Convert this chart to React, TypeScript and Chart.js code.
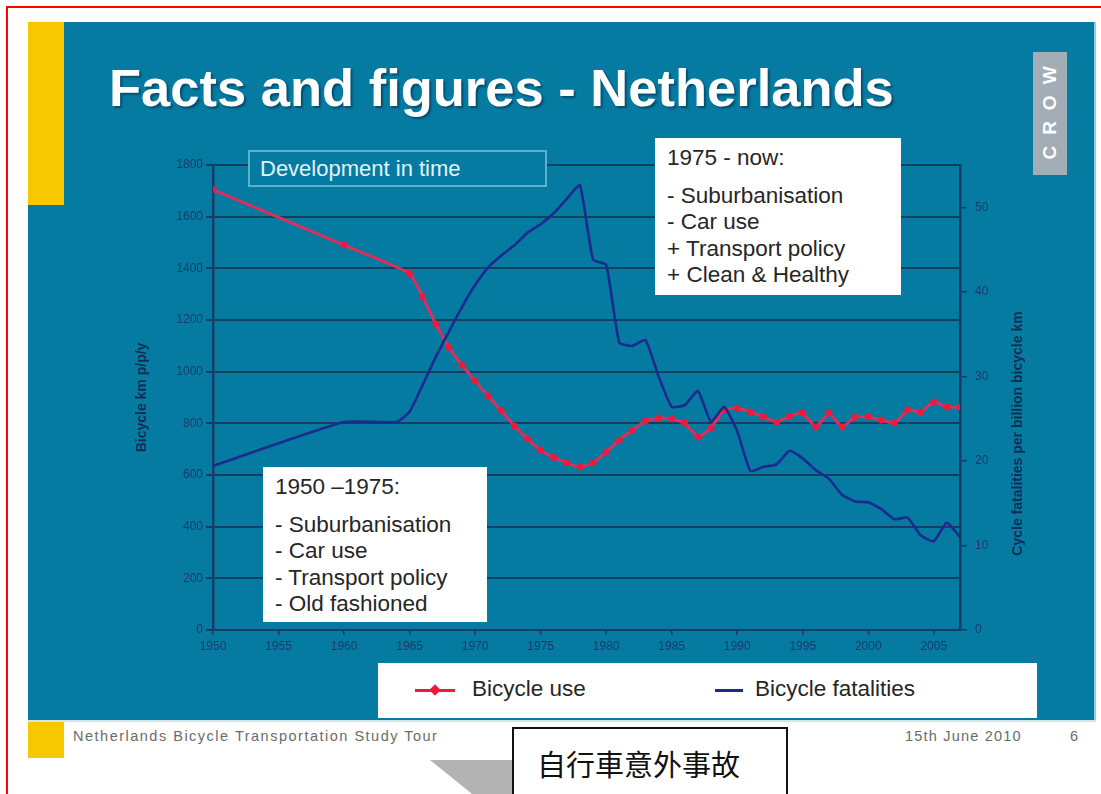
import React, { useEffect, useRef } from "react";
import { Chart, registerables } from "chart.js";

Chart.register(...registerables);

// Bicycle use (km per person per year)
const useYears = [
  1950, 1960, 1965, 1966, 1967, 1968, 1969, 1970, 1971, 1972, 1973, 1974, 1975, 1976, 1977, 1978,
  1979, 1980, 1981, 1982, 1983, 1984, 1985, 1986, 1987, 1988, 1989, 1990, 1991, 1992, 1993, 1994,
  1995, 1996, 1997, 1998, 1999, 2000, 2001, 2002, 2003, 2004, 2005, 2006, 2007,
];
const useKm = [
  1705, 1490, 1380, 1290, 1185, 1095, 1025, 965, 905, 850, 790, 740, 697, 668, 647, 631,
  647, 689, 735, 774, 809, 821, 817, 801, 747, 782, 852, 859, 844, 825, 805, 828,
  840, 786, 840, 786, 825, 825, 813, 801, 852, 844, 883, 863, 863,
];

// Cycle fatalities per billion bicycle km
const fatalYears = [
  1950, 1960, 1964, 1965, 1966, 1967, 1968, 1969, 1970, 1971, 1972, 1973, 1974, 1975, 1976, 1977,
  1978, 1979, 1980, 1981, 1982, 1983, 1984, 1985, 1986, 1987, 1988, 1989, 1990, 1991, 1992, 1993,
  1994, 1995, 1996, 1997, 1998, 1999, 2000, 2001, 2002, 2003, 2004, 2005, 2006, 2007,
];
const fatalRate = [
  19.4, 24.6, 24.6, 25.8, 29.0, 32.3, 35.3, 38.2, 40.8, 42.9, 44.3, 45.5, 47.0, 48.0, 49.3, 51.0,
  52.6, 43.8, 43.2, 34.0, 33.6, 34.3, 30.0, 26.4, 26.6, 28.3, 24.6, 26.4, 23.5, 18.8, 19.3, 19.6,
  21.2, 20.3, 18.9, 17.9, 16.0, 15.2, 15.1, 14.3, 13.1, 13.3, 11.2, 10.5, 12.7, 11.0,
];

const yearMin = 1950;
const yearMax = 2007;
const yearStep = 5;
const kmMax = 1800;
const kmStep = 200;
const rateMax = 55;
const rateStep = 10;

const leftAxisTitle = "Bicycle km p/p/y";
const rightAxisTitle = "Cycle fatalities per billion bicycle km";
const useLabel = "Bicycle use";
const fatalLabel = "Bicycle fatalities";

const earlyPeriod = ["1950 \u20131975:", "- Suburbanisation", "- Car use", "- Transport policy", "- Old fashioned"];
const latePeriod = ["1975 - now:", "- Suburbanisation", "- Car use", "+ Transport policy", "+ Clean & Healthy"];

const FONT = '"Liberation Sans", Arial, Helvetica, sans-serif';
const TEAL = "#067ba2";
const NAVY = "#163c6a";
const GRID = "#13405f";
const RED = "#ee1a3c";
const BLUE = "#1b2a8c";

const CANVAS_LEFT = 100;
const CANVAS_TOP = 140;
const CANVAS_W = 940;
const CANVAS_H = 530;

const rightTitlePlugin = {
  id: "rightTitle",
  afterDraw(chart: any) {
    const { ctx, chartArea } = chart;
    const s = chart.scales.y2;
    ctx.save();
    ctx.translate(s.right - 22, (chartArea.top + chartArea.bottom) / 2 + 36);
    ctx.rotate(-Math.PI / 2);
    ctx.font = `bold 14px ${FONT}`;
    ctx.fillStyle = "#0f2d52";
    ctx.textAlign = "center";
    ctx.textBaseline = "middle";
    ctx.fillText(rightAxisTitle, 0, 0);
    ctx.restore();
  },
};

function TrendChart() {
  const ref = useRef<HTMLCanvasElement | null>(null);

  useEffect(() => {
    if (!ref.current) return;
    const chart = new Chart(ref.current, {
      type: "line",
      data: {
        datasets: [
          {
            label: fatalLabel,
            data: fatalYears.map((x, i) => ({ x, y: fatalRate[i] })),
            yAxisID: "y2",
            borderColor: BLUE,
            borderWidth: 2.6,
            pointRadius: 0,
            tension: 0.15,
            borderJoinStyle: "round",
            order: 0,
          },
          {
            label: useLabel,
            data: useYears.map((x, i) => ({ x, y: useKm[i] })),
            yAxisID: "y",
            borderColor: "#de2e5c",
            borderWidth: 3,
            pointRadius: 3.4,
            pointBorderWidth: 0,
            pointBackgroundColor: RED,
            tension: 0.15,
            borderJoinStyle: "round",
            order: 1,
          },
        ],
      },
      options: {
        animation: false,
        responsive: false,
        devicePixelRatio: 1,
        layout: { padding: { top: 25, left: 0, right: 0, bottom: 0 } },
        plugins: { legend: { display: false }, tooltip: { enabled: false } },
        scales: {
          x: {
            type: "linear",
            position: "bottom",
            min: yearMin,
            max: yearMax,
            afterFit: (s: any) => {
              s.height = 40;
            },
            ticks: {
              stepSize: yearStep,
              includeBounds: false,
              autoSkip: false,
              maxRotation: 0,
              padding: 4,
              color: NAVY,
              font: { family: FONT, size: 12 },
              callback: (v: any) => String(v),
            },
            grid: { drawOnChartArea: false, drawTicks: true, tickLength: 5, color: NAVY, lineWidth: 1.5 },
            border: { display: true, color: NAVY, width: 2 },
          },
          y: {
            type: "linear",
            position: "left",
            min: 0,
            max: kmMax,
            afterFit: (s: any) => {
              s.width = 113;
            },
            ticks: {
              stepSize: kmStep,
              padding: 3,
              color: NAVY,
              font: { family: FONT, size: 12 },
              callback: (v: any) => String(v),
            },
            grid: { color: GRID, lineWidth: 2, tickLength: 7, tickColor: NAVY },
            border: { display: true, color: NAVY, width: 2.5 },
            title: {
              display: true,
              text: leftAxisTitle,
              color: "#0f2d52",
              font: { family: FONT, size: 14, weight: "bold" },
              padding: { top: 34, bottom: 0 },
            },
          },
          y2: {
            type: "linear",
            position: "right",
            min: 0,
            max: rateMax,
            afterFit: (s: any) => {
              s.width = 80;
            },
            ticks: {
              stepSize: rateStep,
              includeBounds: false,
              padding: 8,
              color: NAVY,
              font: { family: FONT, size: 12 },
              callback: (v: any) => String(v),
            },
            grid: { drawOnChartArea: false, tickLength: 7, color: NAVY, lineWidth: 1.5 },
            border: { display: true, color: NAVY, width: 2.5 },
          },
        },
      } as any,
      plugins: [rightTitlePlugin],
    });
    return () => chart.destroy();
  }, []);

  return (
    <canvas
      ref={ref}
      width={CANVAS_W}
      height={CANVAS_H}
      style={{ position: "absolute", left: CANVAS_LEFT, top: CANVAS_TOP, width: CANVAS_W, height: CANVAS_H, zIndex: 1 }}
    />
  );
}

const abs = (l: number, t: number, w: number, h: number, extra: React.CSSProperties = {}): React.CSSProperties => ({
  position: "absolute",
  left: l,
  top: t,
  width: w,
  height: h,
  boxSizing: "border-box",
  ...extra,
});

function NoteBox({ left, top, width, height, lines }: { left: number; top: number; width: number; height: number; lines: string[] }) {
  return (
    <div
      style={abs(left, top, width, height, {
        background: "#ffffff",
        zIndex: 2,
        fontFamily: FONT,
        fontSize: 22.5,
        color: "#262626",
        padding: "7px 0 0 12px",
        lineHeight: "26.5px",
        whiteSpace: "nowrap",
      })}
    >
      <div style={{ marginBottom: 11 }}>{lines[0]}</div>
      {lines.slice(1).map((l, i) => (
        <div key={i}>{l}</div>
      ))}
    </div>
  );
}

export default function App() {
  return (
    <div style={{ position: "absolute", left: 0, top: 0, width: 1101, height: 794, overflow: "hidden", background: "#ffffff" }}>
      {/* page frame */}
      <div style={abs(6, 6, 1110, 800, { borderTop: "2.5px solid #ff0000", borderLeft: "2.5px solid #ff0000" })} />

      {/* slide body */}
      <div style={abs(28, 22, 1068, 698, { background: TEAL, borderRight: "2px solid #8fd0e4" })} />
      <div style={abs(28, 22, 36, 183, { background: "#f7c800" })} />

      {/* title */}
      <div
        style={abs(109, 58, 840, 60, {
          fontFamily: FONT,
          fontWeight: "bold",
          fontSize: 52.5,
          color: "#ffffff",
          lineHeight: "60px",
          whiteSpace: "nowrap",
          textShadow: "2px 2px 2px rgba(0,40,70,0.55)",
          zIndex: 2,
        })}
      >
        Facts and figures - Netherlands
      </div>

      {/* logo */}
      <div style={abs(1033, 52, 34, 123, { background: "#a3adb6", zIndex: 2 })}>
        <div
          style={{
            position: "absolute",
            left: 17,
            top: 61,
            transform: "translate(-50%, -50%) rotate(-90deg)",
            fontFamily: FONT,
            fontWeight: "bold",
            fontSize: 19,
            letterSpacing: 11,
            color: "#ffffff",
            whiteSpace: "nowrap",
            paddingLeft: 11,
          }}
        >
          CROW
        </div>
      </div>

      <TrendChart />

      {/* chart caption */}
      <div
        style={abs(248, 150, 299, 37, {
          background: TEAL,
          border: "2px solid #5fb0cf",
          zIndex: 2,
          fontFamily: FONT,
          fontSize: 22,
          color: "#e2f2f8",
          lineHeight: "33px",
          paddingLeft: 10,
          whiteSpace: "nowrap",
        })}
      >
        Development in time
      </div>

      <NoteBox left={655} top={138} width={246} height={157} lines={latePeriod} />
      <NoteBox left={263} top={467} width={224} height={155} lines={earlyPeriod} />

      {/* legend */}
      <div style={abs(378, 663, 659, 55, { background: "#ffffff", zIndex: 2, fontFamily: FONT, fontSize: 22.5, color: "#262626" })}>
        <div style={abs(37, 26, 40, 3, { background: RED })} />
        <div style={abs(53, 23, 8, 8, { background: RED, transform: "rotate(45deg)" })} />
        <div style={{ position: "absolute", left: 94, top: 13, whiteSpace: "nowrap" }}>{useLabel}</div>
        <div style={abs(337, 26, 28, 3, { background: BLUE })} />
        <div style={{ position: "absolute", left: 377, top: 13, whiteSpace: "nowrap" }}>{fatalLabel}</div>
      </div>

      {/* footer */}
      <div style={abs(28, 720, 1068, 2, { background: "#d3e4ea" })} />
      <div style={abs(28, 722, 36, 36, { background: "#f7c800" })} />
      <div
        style={{
          position: "absolute",
          left: 73,
          top: 728,
          fontFamily: FONT,
          fontSize: 14.5,
          letterSpacing: 1.5,
          color: "#6b6b6b",
          whiteSpace: "nowrap",
        }}
      >
        Netherlands Bicycle Transportation Study Tour
      </div>
      <div style={{ position: "absolute", left: 905, top: 728, fontFamily: FONT, fontSize: 14.5, letterSpacing: 1.2, color: "#6b6b6b", whiteSpace: "nowrap" }}>
        15th June 2010
      </div>
      <div style={{ position: "absolute", left: 1070, top: 728, fontFamily: FONT, fontSize: 14.5, color: "#6b6b6b" }}>6</div>

      {/* arrow shape and annotation */}
      <div style={abs(430, 760, 90, 40, { background: "#b3b3b3", clipPath: "polygon(0 0, 100% 0, 100% 100%, 55% 100%)" })} />
      <div
        style={abs(512, 727, 276, 80, {
          background: "#ffffff",
          border: "2px solid #111111",
          zIndex: 3,
          fontFamily: '"Noto Sans CJK TC", "Noto Sans CJK SC", sans-serif',
          fontSize: 29,
          color: "#111111",
          paddingLeft: 23,
          paddingTop: 16,
          lineHeight: "36px",
          whiteSpace: "nowrap",
        })}
      >
        自行車意外事故
      </div>
    </div>
  );
}
